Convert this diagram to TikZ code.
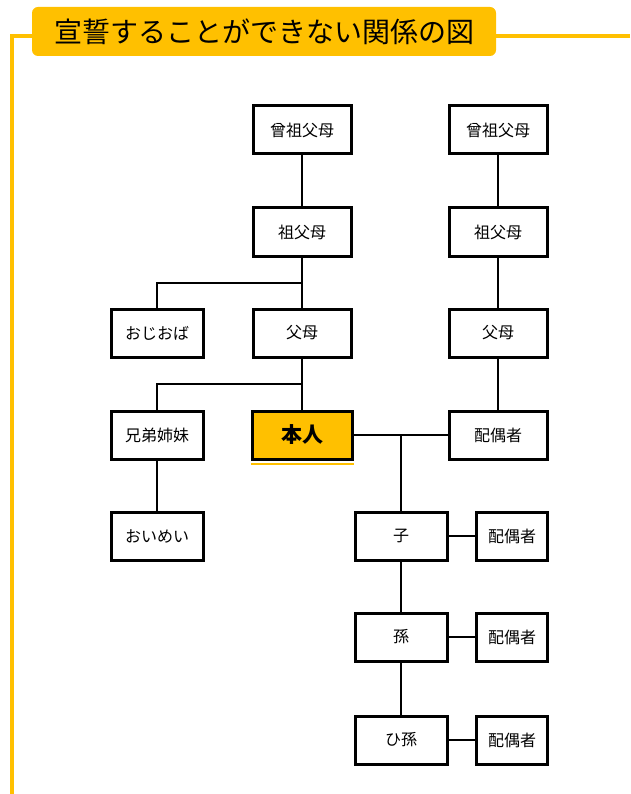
\documentclass[tikz,border=0pt]{standalone}
\usepackage{fontspec}
\newfontfamily\jp{Noto Sans CJK JP}
\usepackage{tikz}
\usetikzlibrary{backgrounds,calc}
\definecolor{gold}{HTML}{FFC000}

\begin{document}
\begin{tikzpicture}[x=1pt, y=-1pt]
	\tikzstyle{box} = [rectangle, draw=black, line width=3pt, fill=white, minimum width=98pt, minimum height=48pt, inner sep=0pt, font=\jp\fontsize{16}{16}\selectfont]
	\tikzstyle{sbox} = [box, minimum width=92pt]
	\tikzstyle{pbox} = [box, minimum width=71pt]
	\tikzstyle{self} = [box, minimum width=100pt, fill=gold, font=\jp\bfseries\fontsize{21}{21}\selectfont]
	\tikzstyle{title} = [rectangle, rounded corners=6pt, fill=gold, minimum width=464pt, minimum height=49pt, inner sep=0pt, font=\jp\fontsize{28}{28}\selectfont]
	\tikzstyle{link} = [line width=2pt]
	\useasboundingbox (0,0) rectangle (630,794);
	\draw[gold, line width=3.5pt] (630,36) -- (12,36) -- (12,794);
	\node[title](head) at (264,31.5){宣誓することができない関係の図};
	\node[box](sso1) at (302,130){曾祖父母};
	\node[box](sso2) at (498,130){曾祖父母};
	\node[box](so1) at (302,232){祖父母};
	\node[box](so2) at (498,232){祖父母};
	\node[sbox](oji) at (157,333){おじおば};
	\node[box](fubo1) at (302,333){父母};
	\node[box](fubo2) at (498,333){父母};
	\node[sbox](kyo) at (157,435){兄弟姉妹};
	\node[self](me) at (302,435){本人};
	\node[box](hai) at (498,435){配偶者};
	\node[sbox](oi) at (157,536){おいめい};
	\node[sbox](ko) at (401,536){子};
	\node[pbox](hai1) at (512,536){配偶者};
	\node[sbox](mago) at (401,637){孫};
	\node[pbox](hai2) at (512,637){配偶者};
	\node[sbox](hmago) at (401,740){ひ孫};
	\node[pbox](hai3) at (512,740){配偶者};
	\draw[gold, line width=2pt] ([yshift=-3.5pt]me.south west) -- ([yshift=-3.5pt]me.south east);
	\coordinate (j1) at (302,283);
	\coordinate (j1l) at (157,283);
	\coordinate (j2) at (302,384);
	\coordinate (j2l) at (157,384);
	\coordinate (j3) at (401,435);
	\draw[link](sso1) -- (so1);
	\draw[link](sso2) -- (so2);
	\draw[link](so1) -- (fubo1);
	\draw[link](so2) -- (fubo2);
	\draw[link](j1) -- (j1l) -- (oji);
	\draw[link](fubo1) -- (me);
	\draw[link](fubo2) -- (hai);
	\draw[link](j2) -- (j2l) -- (kyo);
	\draw[link](kyo) -- (oi);
	\draw[link](me) -- (hai);
	\draw[link](j3) -- (ko);
	\draw[link](ko) -- (mago);
	\draw[link](mago) -- (hmago);
	\draw[link](ko) -- (hai1);
	\draw[link](mago) -- (hai2);
	\draw[link](hmago) -- (hai3);
\end{tikzpicture}
\end{document}
